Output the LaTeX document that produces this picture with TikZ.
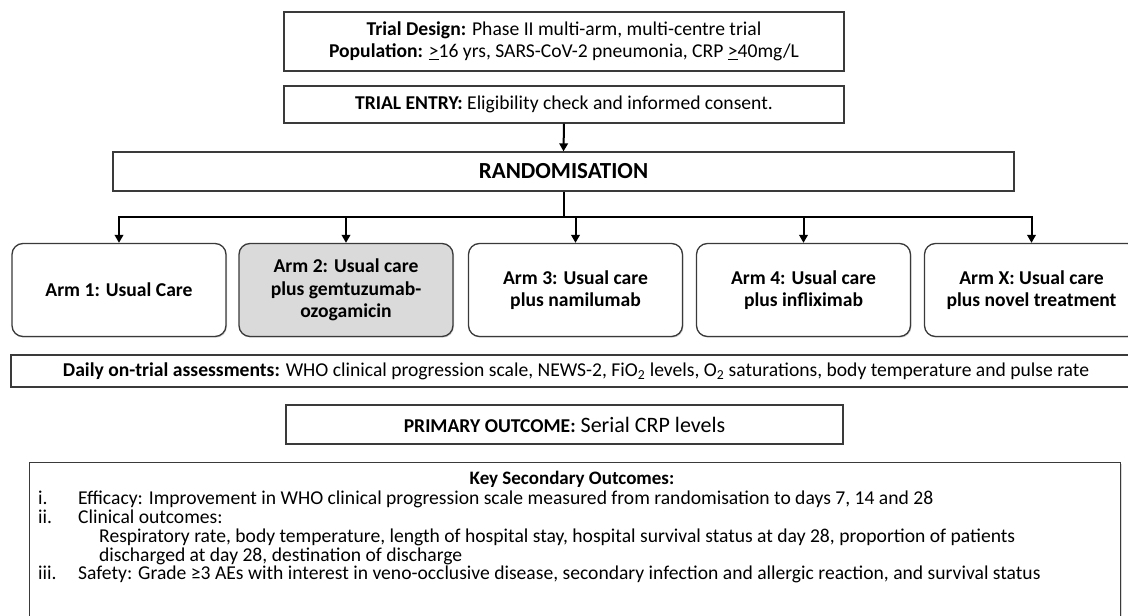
\documentclass[tikz,border=0pt]{standalone}
\usepackage{xcolor}
\usepackage{fontspec}
\setmainfont{Carlito}
\usepackage{tikz}
\usetikzlibrary{shapes,arrows,positioning,shadows,calc,arrows.meta}

\definecolor{boxline}{HTML}{3A3A3A}
\definecolor{armgrey}{HTML}{DADADA}

\tikzset{
    outbox/.style={
        draw=boxline,
        line width=1.3pt,
        fill=white,
        drop shadow={shadow xshift=1pt, shadow yshift=-1.2pt, opacity=0.3},
        inner sep=0pt,
        align=center
    },
    armbox/.style={
        outbox,
        rounded corners=11pt,
        minimum width=214pt,
        minimum height=93pt,
        font=\fontsize{19.6}{22.5}\selectfont\bfseries
    },
    flowline/.style={
        draw=black,
        line width=2pt
    },
    flowarrow/.style={
        flowline,
        -{Triangle[length=8pt, width=8.5pt]}
    },
    bodytext/.style={
        font=\fontsize{19.6}{22}\selectfont,
        inner sep=0pt
    }
}

\begin{document}
\begin{tikzpicture}[x=1pt, y=-1pt]
    \useasboundingbox (0,0) rectangle (1128,616);
    \clip (0,0) rectangle (1128,616);
    \fill[white] (0,0) rectangle (1128,616);

    % design and entry
    \node[outbox, minimum width=560pt, minimum height=59pt,
          font=\fontsize{19.6}{22.5}\selectfont] (design) at (564,41.5) {
        \textbf{Trial Design:} Phase II multi-arm, multi-centre trial\\
        \textbf{Population:} \underline{>}16 yrs, SARS-CoV-2 pneumonia, CRP \underline{>}40mg/L};
    \node[outbox, minimum width=560pt, minimum height=37pt,
          font=\fontsize{19.6}{22}\selectfont] (entry) at (564,104.5) {
        \textbf{TRIAL ENTRY:} Eligibility check and informed consent.};

    % randomisation
    \node[outbox, minimum width=901pt, minimum height=39pt,
          font=\fontsize{23}{26}\selectfont\bfseries] (random) at (563.5,171.5) {RANDOMISATION};

    % arms
    \node[armbox] (arm1) at (119,290) {Arm 1: Usual Care};
    \node[armbox, fill=armgrey] (arm2) at (346,290) {Arm 2: Usual care\\plus gemtuzumab-\\ozogamicin};
    \node[armbox] (arm3) at (575.5,290) {Arm 3: Usual care\\plus namilumab};
    \node[armbox] (arm4) at (803.5,290) {Arm 4: Usual care\\plus infliximab};
    \node[armbox] (armX) at (1031.5,290) {Arm X: Usual care\\plus novel treatment};

    \draw[flowarrow] (entry.south) -- (random.north);
    \coordinate (split) at (563.5,216.5);
    \draw[flowline] (random.south) -- (split);
    \draw[flowline, line cap=rect] (arm1.north |- split) -- (armX.north |- split);
    \foreach \arm in {arm1,arm2,arm3,arm4,armX} {
        \draw[flowarrow] (\arm.north |- split) -- (\arm.north);
    }

    % assessments and outcomes
    \node[outbox, minimum width=1130pt, minimum height=32pt,
          font=\fontsize{19.6}{22}\selectfont] (daily) at (576,371) {
        \textbf{Daily on-trial assessments:} WHO clinical progression scale, NEWS-2, FiO\textsubscript{2} levels,
        O\textsubscript{2} saturations, body temperature and pulse rate};
    \node[outbox, minimum width=557pt, minimum height=39pt,
          font=\fontsize{22}{24}\selectfont] (primary) at (564.5,424.5) {
        {\fontsize{19.6}{22}\selectfont\textbf{PRIMARY OUTCOME:}} Serial CRP levels};

    \node[outbox, minimum width=1091pt, minimum height=170pt, anchor=north west] (second) at (29,462) {};
    \node[bodytext, font=\fontsize{19}{21}\selectfont\bfseries, anchor=base] (sectitle) at (572,484.5) {Key Secondary Outcomes:};
    \node[bodytext, anchor=base west] (item1) at (38,504) {i.};
    \node[bodytext, anchor=base west] (item2) at (38,523) {ii.};
    \node[bodytext, anchor=base west] (item3) at (38,579.5) {iii.};
    \node[bodytext, anchor=base west] (text1) at (78,504) {Efficacy: Improvement in WHO clinical progression scale measured from randomisation to days 7, 14 and 28};
    \node[bodytext, anchor=base west] (text2) at (78,523) {Clinical outcomes:};
    \node[bodytext, anchor=base west] (text2a) at (99,542) {Respiratory rate, body temperature, length of hospital stay, hospital survival status at day 28, proportion of patients};
    \node[bodytext, anchor=base west] (text2b) at (99,561) {discharged at day 28, destination of discharge};
    \node[bodytext, anchor=base west] (text3) at (78,579.5) {Safety: Grade ≥3 AEs with interest in veno-occlusive disease, secondary infection and allergic reaction, and survival status};
\end{tikzpicture}
\end{document}
